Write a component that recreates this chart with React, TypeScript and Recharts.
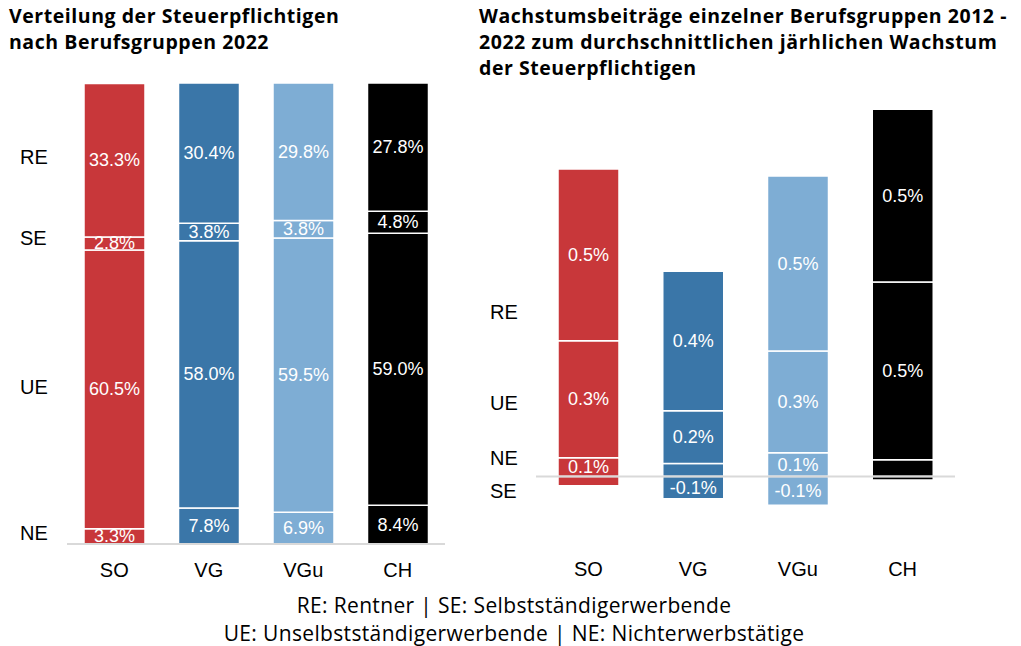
import React from 'react';
import { Bar, BarChart, Cell, LabelList, ReferenceLine, XAxis, YAxis } from 'recharts';

const categories = ['SO', 'VG', 'VGu', 'CH'];
const colors = ['#C8373A', '#3A76A8', '#7EADD4', '#000000'];
const groups = ['NE', 'UE', 'SE', 'RE'];

// Verteilung 2022 (%)
const shareNE = [3.3, 7.8, 6.9, 8.4];
const shareUE = [60.5, 58.0, 59.5, 59.0];
const shareSE = [2.8, 3.8, 3.8, 4.8];
const shareRE = [33.3, 30.4, 29.8, 27.8];

// Wachstumsbeiträge 2012-2022 (Prozentpunkte)
const growthNE = [0.054, 0.037, 0.068, 0.048];
const growthUE = [0.336, 0.152, 0.293, 0.511];
const growthSE = [-0.027, -0.064, -0.083, -0.01];
const growthRE = [0.494, 0.401, 0.503, 0.497];

// row labels on the left of each chart
const leftRowTicks = [2.4, 34.1, 66.4, 83.9];
const leftRowNames = ['NE', 'UE', 'SE', 'RE'];
const rightRowTicks = [-0.043, 0.054, 0.212, 0.473];
const rightRowNames = ['SE', 'NE', 'UE', 'RE'];

const FONT = '"Liberation Sans", Arial, sans-serif';
const TEXT_FONT = '"Open Sans", "Liberation Sans", sans-serif';

const shareData = categories.map((name, i) => ({ name, NE: shareNE[i], UE: shareUE[i], SE: shareSE[i], RE: shareRE[i] }));
const growthData = categories.map((name, i) => ({ name, NE: growthNE[i], UE: growthUE[i], SE: growthSE[i], RE: growthRE[i] }));

const seriesShare: Record<string, number[]> = { NE: shareNE, UE: shareUE, SE: shareSE, RE: shareRE };
const seriesGrowth: Record<string, number[]> = { NE: growthNE, UE: growthUE, SE: growthSE, RE: growthRE };

const makeLabel = (vals: number[], min: number) => (props: any) => {
  const { x, y, width, height, index } = props;
  const v = vals[index];
  if (v === undefined || Math.abs(v) < min) return null;
  return (
    <text x={x + width / 2} y={y + height / 2} fill="#fff" fontSize={18} fontFamily={FONT} textAnchor="middle" dominantBaseline="central">
      {v.toFixed(1) + '%'}
    </text>
  );
};

const rowTick = (names: string[], ticks: number[]) => (props: any) => {
  const { y, payload } = props;
  const i = ticks.indexOf(payload.value);
  return (
    <text x={20} y={y} fontSize={20} fontFamily={FONT} fill="#000" dominantBaseline="central">
      {names[i]}
    </text>
  );
};

const titleStyle: React.CSSProperties = {
  position: 'absolute', top: 3, fontSize: 19.5, fontWeight: 700, lineHeight: '26px',
  letterSpacing: 0.55, fontFamily: TEXT_FONT, whiteSpace: 'nowrap',
};

export default function App() {
  return (
    <div style={{ position: 'absolute', left: 0, top: 0, width: 1021, height: 646, background: '#fff', fontFamily: FONT, color: '#000' }}>
      <div style={{ ...titleStyle, left: 9 }}>
        Verteilung der Steuerpflichtigen
        <br />
        nach Berufsgruppen 2022
      </div>
      <div style={{ ...titleStyle, left: 479 }}>
        Wachstumsbeiträge einzelner Berufsgruppen 2012 -
        <br />
        2022 zum durchschnittlichen järhlichen Wachstum
        <br />
        der Steuerpflichtigen
      </div>

      <div style={{ position: 'absolute', left: 0, top: 0 }}>
        <BarChart width={460} height={600} data={shareData} margin={{ top: 83, right: 15, bottom: 0, left: 0 }}>
          <XAxis dataKey="name" height={56} tickLine={false} axisLine={{ stroke: '#d9d9d9', strokeWidth: 2 }}
            tickMargin={13} tick={{ fontSize: 20, fill: '#000', fontFamily: FONT }} />
          <YAxis type="number" domain={[0, 100]} width={67} ticks={leftRowTicks} interval={0}
            axisLine={false} tickLine={false} tick={rowTick(leftRowNames, leftRowTicks)} />
          {groups.map((g) => (
            <Bar key={g} dataKey={g} stackId="a" barSize={61} isAnimationActive={false} stroke="#fff" strokeWidth={1.5}>
              {shareData.map((d, i) => (
                <Cell key={d.name} fill={colors[i]} />
              ))}
              <LabelList dataKey={g} content={makeLabel(seriesShare[g], 0)} />
            </Bar>
          ))}
        </BarChart>
      </div>

      <div style={{ position: 'absolute', left: 470, top: 0 }}>
        <BarChart width={551} height={600} data={growthData} stackOffset="sign" margin={{ top: 94, right: 66, bottom: 0, left: 0 }}>
          <XAxis dataKey="name" height={54} tickLine={false} axisLine={false}
            tickMargin={10} tick={{ fontSize: 20, fill: '#000', fontFamily: FONT }} />
          <YAxis type="number" domain={[-0.2, 1.1]} width={66} ticks={rightRowTicks} interval={0}
            axisLine={false} tickLine={false} tick={rowTick(rightRowNames, rightRowTicks)} />
          {groups.map((g) => (
            <Bar key={g} dataKey={g} stackId="a" barSize={61} isAnimationActive={false} stroke="#fff" strokeWidth={1.5}>
              {growthData.map((d, i) => (
                <Cell key={d.name} fill={colors[i]} />
              ))}
              <LabelList dataKey={g} content={makeLabel(seriesGrowth[g], 0.05)} />
            </Bar>
          ))}
          <ReferenceLine y={0} stroke="#d9d9d9" strokeWidth={2} />
        </BarChart>
      </div>

      <div style={{ position: 'absolute', left: 0, width: 1028, top: 591, textAlign: 'center', fontSize: 21, letterSpacing: 0.35, lineHeight: '28px', fontFamily: TEXT_FONT }}>
        RE: Rentner | SE: Selbstständigerwerbende
        <br />
        UE: Unselbstständigerwerbende | NE: Nichterwerbstätige
      </div>
    </div>
  );
}
